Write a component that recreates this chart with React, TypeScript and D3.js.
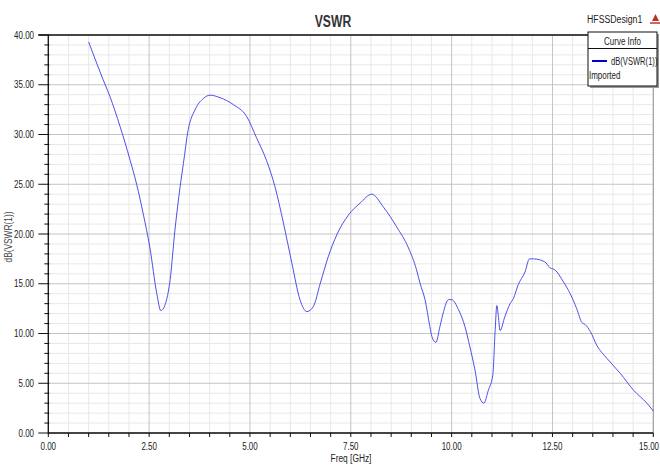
import React from 'react';
import * as d3 from 'd3';

// curve
const freqGHz = [
  1.0, 1.36, 1.53, 1.78, 2.03, 2.19, 2.36, 2.52, 2.69, 2.79, 2.92, 3.02, 3.14, 3.27, 3.35, 3.47,
  3.64, 3.84, 4.01, 4.26, 4.59, 4.92, 5.17, 5.41, 5.62, 5.83, 6.04, 6.24, 6.41, 6.57, 6.74, 6.94,
  7.15, 7.44, 7.73, 8.02, 8.31, 8.64, 8.93, 9.13, 9.22, 9.34, 9.46, 9.51, 9.61, 9.71, 9.8, 9.92,
  10.0, 10.17, 10.33, 10.45, 10.58, 10.7, 10.8, 10.91, 11.02, 11.08, 11.12, 11.16, 11.2, 11.32,
  11.45, 11.53, 11.65, 11.82, 11.93, 12.03, 12.31, 12.44, 12.56, 12.77, 12.94, 13.1, 13.23, 13.31,
  13.44, 13.6, 13.85, 14.18, 14.51, 14.84, 15.0,
];
const vswrDb = [
  39.3, 35.5, 33.8, 30.8, 27.4, 25.0, 21.9, 18.6, 14.0, 12.3, 13.2, 15.4, 20.4, 24.8, 27.1, 30.5,
  32.5, 33.6, 33.95, 33.7, 33.0, 31.8, 29.6, 27.4, 24.75, 21.1, 17.05, 13.4, 12.2, 12.7, 15.0, 17.7,
  19.9, 21.9, 23.1, 24.0, 22.7, 20.7, 18.6, 16.4, 15.0, 13.4, 10.7, 9.7, 9.1, 10.7, 12.2, 13.4,
  13.4, 12.4, 10.7, 8.7, 6.3, 3.5, 3.0, 4.3, 5.8, 10.4, 12.8, 11.7, 10.3, 11.7,
  13.0, 13.5, 14.9, 16.2, 17.5, 17.5, 17.2, 16.6, 16.4, 15.2, 14.0, 12.5, 11.1, 10.9,
  10.2, 8.8, 7.5, 6.0, 4.3, 3.0, 2.2,
];
const xTicks = [0, 2.5, 5, 7.5, 10, 12.5, 15];
const yTicks = [0, 5, 10, 15, 20, 25, 30, 35, 40];

const W = 660;
const H = 466;
const left = 48.3;
const right = 653.3;
const top = 35;
const bottom = 433;
const FONT = "'Liberation Sans', Arial, sans-serif";
const SQ = 0.76; // narrow look of the HFSS fonts

function T({ x, y, size, anchor = 'start', weight = 'normal', fill = '#222', rotate = 0, children }: any) {
  return (
    <text
      transform={`translate(${x},${y}) rotate(${rotate}) scale(${SQ},1)`}
      fontSize={size}
      fontFamily={FONT}
      fontWeight={weight}
      textAnchor={anchor}
      fill={fill}
    >
      {children}
    </text>
  );
}

export default function App() {
  const x = d3.scaleLinear().domain([0, 15]).range([left, right]);
  const y = d3.scaleLinear().domain([0, 40]).range([bottom, top]);

  const minorX = d3.range(0, 15.001, 0.5);
  const minorY = d3.range(0, 40.001, 1);
  const isMajorX = (v: number) => Math.abs(v / 2.5 - Math.round(v / 2.5)) < 1e-6;
  const isMajorY = (v: number) => Math.abs(v / 5 - Math.round(v / 5)) < 1e-6;

  const pts = freqGHz.map((f, i) => [f, vswrDb[i]] as [number, number]);
  const path = d3.line<[number, number]>()
    .x(d => x(d[0]))
    .y(d => y(d[1]))
    .curve(d3.curveMonotoneX)(pts);

  return (
    <svg width={W} height={H} style={{ position: 'absolute', left: 0, top: 0, background: '#fff' }}>
      {/* grid */}
      {minorX.filter(v => !isMajorX(v)).map(v => (
        <line key={'gx' + v} x1={x(v)} x2={x(v)} y1={top} y2={bottom} stroke="#e8e8e8" />
      ))}
      {minorY.filter(v => !isMajorY(v)).map(v => (
        <line key={'gy' + v} x1={left} x2={right} y1={y(v)} y2={y(v)} stroke="#e8e8e8" />
      ))}
      {xTicks.map(v => (
        <line key={'Gx' + v} x1={x(v)} x2={x(v)} y1={top} y2={bottom} stroke="#c4c4c4" />
      ))}
      {yTicks.map(v => (
        <line key={'Gy' + v} x1={left} x2={right} y1={y(v)} y2={y(v)} stroke="#c4c4c4" />
      ))}

      {/* frame */}
      <line x1={right} x2={right} y1={top} y2={bottom} stroke="#9a9a9a" />
      <line x1={left - 10} x2={right} y1={top} y2={top} stroke="#111" strokeWidth={1.3} />
      <line x1={left} x2={left} y1={top} y2={bottom + 1} stroke="#111" strokeWidth={1.3} />
      <line x1={left} x2={right} y1={bottom} y2={bottom} stroke="#111" strokeWidth={1.3} />

      {/* y ticks */}
      {minorY.map(v => (
        <line key={'ty' + v} x1={isMajorY(v) ? left - 10 : left - 4} x2={left + 1} y1={y(v)} y2={y(v)}
          stroke="#111" strokeWidth={1} />
      ))}
      {/* x ticks */}
      {minorX.map(v => (
        <line key={'tx' + v} x1={x(v)} x2={x(v)} y1={bottom} y2={bottom + 4} stroke="#111" strokeWidth={1} />
      ))}

      {yTicks.map(v => (
        <T key={'ly' + v} x={34} y={y(v) + 3.5} size={10.5} anchor="end">{v.toFixed(2)}</T>
      ))}
      {xTicks.map(v => (
        // last label would run past the window edge, so pin it to the right
        v === 15
          ? <T key={'lx' + v} x={W - 1} y={450} size={10.5} anchor="end">{v.toFixed(2)}</T>
          : <T key={'lx' + v} x={x(v)} y={450} size={10.5} anchor="middle">{v.toFixed(2)}</T>
      ))}

      <path d={path ?? ''} fill="none" stroke="#4646e6" strokeWidth={0.95} />

      {/* titles */}
      <T x={333} y={27} size={16} anchor="middle" weight="bold" fill="#333">VSWR</T>
      <T x={351} y={462} size={11} anchor="middle" fill="#222">Freq [GHz]</T>
      <T x={12} y={237} size={11} anchor="middle" rotate={-90} fill="#444">dB(VSWR(1))</T>
      <T x={587} y={23} size={11.5} fill="#222">HFSSDesign1</T>

      {/* ansoft mark */}
      <polygon points="652,21 655.5,14 659,21" fill="#c0302a" />
      <rect x={650} y={22} width={10} height={2} fill="#c46a66" />

      {/* legend */}
      <rect x={590} y={34} width={69} height={54} fill="#9a9a9a" />
      <rect x={588} y={32} width={69} height={54} fill="#fff" stroke="#111" strokeWidth={1} />
      <line x1={588} x2={657} y1={48.5} y2={48.5} stroke="#111" strokeWidth={1} />
      <T x={622.5} y={45} size={10.5} anchor="middle">Curve Info</T>
      <line x1={592} x2={607} y1={61} y2={61} stroke="#0000d0" strokeWidth={2} />
      <T x={611} y={65} size={10}>dB(VSWR(1))</T>
      <T x={589} y={79} size={10.5}>Imported</T>
    </svg>
  );
}
